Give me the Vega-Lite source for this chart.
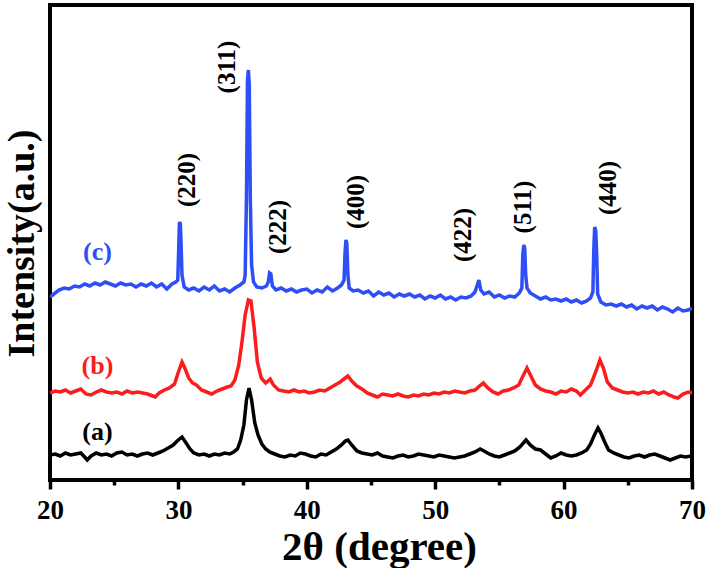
{
"$schema": "https://vega.github.io/schema/vega-lite/v6.json",
"width": 642, "height": 475,
"autosize": {"type": "none"},
"padding": {"left": 50, "top": 5, "right": 17, "bottom": 88},
"background": "white",
"config": {"view": {"stroke": "black", "strokeWidth": 4}, "font": "Liberation Serif"},
"datasets": {
"curves": [
{"s":"c","t":20.0,"i":183},{"s":"c","t":20.3,"i":186},{"s":"c","t":20.7,"i":190},{"s":"c","t":21.1,"i":192},{"s":"c","t":21.5,"i":191},{"s":"c","t":21.9,"i":194},{"s":"c","t":22.3,"i":193},{"s":"c","t":22.7,"i":196},{"s":"c","t":23.1,"i":194},{"s":"c","t":23.5,"i":197},{"s":"c","t":23.9,"i":195},{"s":"c","t":24.3,"i":198},{"s":"c","t":24.7,"i":196},{"s":"c","t":25.1,"i":194},{"s":"c","t":25.5,"i":197},{"s":"c","t":25.9,"i":195},{"s":"c","t":26.3,"i":196},{"s":"c","t":26.7,"i":193},{"s":"c","t":27.1,"i":196},{"s":"c","t":27.5,"i":194},{"s":"c","t":27.9,"i":197},{"s":"c","t":28.3,"i":193},{"s":"c","t":28.7,"i":196},{"s":"c","t":29.1,"i":191},{"s":"c","t":29.5,"i":196},{"s":"c","t":29.8,"i":198},{"s":"c","t":29.95,"i":200},{"s":"c","t":30.02,"i":230},{"s":"c","t":30.08,"i":258},{"s":"c","t":30.15,"i":256},{"s":"c","t":30.2,"i":240},{"s":"c","t":30.28,"i":205},{"s":"c","t":30.45,"i":193},{"s":"c","t":30.8,"i":190},{"s":"c","t":31.2,"i":192},{"s":"c","t":31.6,"i":189},{"s":"c","t":32.0,"i":193},{"s":"c","t":32.4,"i":190},{"s":"c","t":32.8,"i":194},{"s":"c","t":33.2,"i":189},{"s":"c","t":33.6,"i":191},{"s":"c","t":34.0,"i":188},{"s":"c","t":34.4,"i":192},{"s":"c","t":34.8,"i":195},{"s":"c","t":35.1,"i":198},{"s":"c","t":35.2,"i":205},{"s":"c","t":35.3,"i":283},{"s":"c","t":35.38,"i":400},{"s":"c","t":35.45,"i":410},{"s":"c","t":35.52,"i":395},{"s":"c","t":35.6,"i":283},{"s":"c","t":35.7,"i":215},{"s":"c","t":35.85,"i":198},{"s":"c","t":36.1,"i":193},{"s":"c","t":36.5,"i":192},{"s":"c","t":36.85,"i":194},{"s":"c","t":37.0,"i":198},{"s":"c","t":37.1,"i":207},{"s":"c","t":37.2,"i":206},{"s":"c","t":37.32,"i":194},{"s":"c","t":37.6,"i":190},{"s":"c","t":38.0,"i":192},{"s":"c","t":38.4,"i":189},{"s":"c","t":38.8,"i":191},{"s":"c","t":39.2,"i":188},{"s":"c","t":39.6,"i":190},{"s":"c","t":40.0,"i":191},{"s":"c","t":40.4,"i":187},{"s":"c","t":40.8,"i":190},{"s":"c","t":41.2,"i":188},{"s":"c","t":41.6,"i":193},{"s":"c","t":42.0,"i":189},{"s":"c","t":42.4,"i":192},{"s":"c","t":42.7,"i":195},{"s":"c","t":42.9,"i":200},{"s":"c","t":42.98,"i":228},{"s":"c","t":43.05,"i":240},{"s":"c","t":43.12,"i":236},{"s":"c","t":43.2,"i":205},{"s":"c","t":43.3,"i":192},{"s":"c","t":43.6,"i":189},{"s":"c","t":44.0,"i":190},{"s":"c","t":44.4,"i":187},{"s":"c","t":44.8,"i":189},{"s":"c","t":45.2,"i":184},{"s":"c","t":45.6,"i":188},{"s":"c","t":46.0,"i":185},{"s":"c","t":46.4,"i":187},{"s":"c","t":46.8,"i":183},{"s":"c","t":47.2,"i":186},{"s":"c","t":47.6,"i":184},{"s":"c","t":48.0,"i":186},{"s":"c","t":48.4,"i":183},{"s":"c","t":48.8,"i":185},{"s":"c","t":49.2,"i":181},{"s":"c","t":49.6,"i":184},{"s":"c","t":50.0,"i":182},{"s":"c","t":50.4,"i":185},{"s":"c","t":50.8,"i":181},{"s":"c","t":51.2,"i":183},{"s":"c","t":51.6,"i":180},{"s":"c","t":52.0,"i":183},{"s":"c","t":52.4,"i":182},{"s":"c","t":52.8,"i":184},{"s":"c","t":53.1,"i":188},{"s":"c","t":53.25,"i":194},{"s":"c","t":53.4,"i":200},{"s":"c","t":53.55,"i":190},{"s":"c","t":53.8,"i":186},{"s":"c","t":54.2,"i":188},{"s":"c","t":54.6,"i":183},{"s":"c","t":55.0,"i":185},{"s":"c","t":55.4,"i":182},{"s":"c","t":55.8,"i":184},{"s":"c","t":56.2,"i":183},{"s":"c","t":56.55,"i":187},{"s":"c","t":56.75,"i":192},{"s":"c","t":56.82,"i":225},{"s":"c","t":56.9,"i":235},{"s":"c","t":56.97,"i":232},{"s":"c","t":57.05,"i":205},{"s":"c","t":57.15,"i":192},{"s":"c","t":57.4,"i":187},{"s":"c","t":57.8,"i":184},{"s":"c","t":58.2,"i":181},{"s":"c","t":58.6,"i":183},{"s":"c","t":59.0,"i":180},{"s":"c","t":59.4,"i":181},{"s":"c","t":59.8,"i":179},{"s":"c","t":60.2,"i":181},{"s":"c","t":60.6,"i":178},{"s":"c","t":61.0,"i":180},{"s":"c","t":61.4,"i":177},{"s":"c","t":61.8,"i":179},{"s":"c","t":62.1,"i":182},{"s":"c","t":62.28,"i":188},{"s":"c","t":62.35,"i":230},{"s":"c","t":62.42,"i":253},{"s":"c","t":62.5,"i":250},{"s":"c","t":62.58,"i":225},{"s":"c","t":62.65,"i":186},{"s":"c","t":62.9,"i":178},{"s":"c","t":63.3,"i":175},{"s":"c","t":63.7,"i":176},{"s":"c","t":64.1,"i":174},{"s":"c","t":64.5,"i":176},{"s":"c","t":64.9,"i":173},{"s":"c","t":65.3,"i":175},{"s":"c","t":65.7,"i":171},{"s":"c","t":66.1,"i":174},{"s":"c","t":66.5,"i":172},{"s":"c","t":66.9,"i":174},{"s":"c","t":67.3,"i":170},{"s":"c","t":67.7,"i":173},{"s":"c","t":68.1,"i":171},{"s":"c","t":68.5,"i":168},{"s":"c","t":68.9,"i":172},{"s":"c","t":69.3,"i":169},{"s":"c","t":69.7,"i":170},{"s":"c","t":70.0,"i":172},
{"s":"b","t":20.0,"i":87},{"s":"b","t":20.4,"i":89},{"s":"b","t":20.8,"i":88},{"s":"b","t":21.2,"i":90},{"s":"b","t":21.6,"i":87},{"s":"b","t":22.0,"i":89},{"s":"b","t":22.4,"i":91},{"s":"b","t":22.8,"i":86},{"s":"b","t":23.2,"i":85},{"s":"b","t":23.6,"i":88},{"s":"b","t":24.0,"i":90},{"s":"b","t":24.4,"i":88},{"s":"b","t":24.8,"i":87},{"s":"b","t":25.2,"i":88},{"s":"b","t":25.6,"i":86},{"s":"b","t":26.0,"i":89},{"s":"b","t":26.4,"i":87},{"s":"b","t":26.8,"i":88},{"s":"b","t":27.2,"i":87},{"s":"b","t":27.6,"i":86},{"s":"b","t":28.0,"i":84},{"s":"b","t":28.2,"i":83},{"s":"b","t":28.5,"i":87},{"s":"b","t":28.9,"i":90},{"s":"b","t":29.3,"i":92},{"s":"b","t":29.7,"i":96},{"s":"b","t":30.0,"i":108},{"s":"b","t":30.28,"i":118},{"s":"b","t":30.5,"i":112},{"s":"b","t":30.8,"i":102},{"s":"b","t":31.1,"i":97},{"s":"b","t":31.4,"i":95},{"s":"b","t":31.8,"i":90},{"s":"b","t":32.2,"i":88},{"s":"b","t":32.6,"i":86},{"s":"b","t":33.0,"i":89},{"s":"b","t":33.4,"i":91},{"s":"b","t":33.8,"i":93},{"s":"b","t":34.1,"i":94},{"s":"b","t":34.4,"i":100},{"s":"b","t":34.7,"i":115},{"s":"b","t":34.95,"i":138},{"s":"b","t":35.2,"i":165},{"s":"b","t":35.45,"i":180},{"s":"b","t":35.65,"i":179},{"s":"b","t":35.9,"i":152},{"s":"b","t":36.15,"i":118},{"s":"b","t":36.45,"i":102},{"s":"b","t":36.8,"i":97},{"s":"b","t":37.15,"i":101},{"s":"b","t":37.4,"i":95},{"s":"b","t":37.8,"i":90},{"s":"b","t":38.2,"i":89},{"s":"b","t":38.6,"i":88},{"s":"b","t":39.0,"i":90},{"s":"b","t":39.4,"i":88},{"s":"b","t":39.8,"i":89},{"s":"b","t":40.2,"i":87},{"s":"b","t":40.6,"i":88},{"s":"b","t":41.0,"i":90},{"s":"b","t":41.4,"i":89},{"s":"b","t":41.8,"i":92},{"s":"b","t":42.2,"i":95},{"s":"b","t":42.6,"i":98},{"s":"b","t":43.0,"i":102},{"s":"b","t":43.2,"i":104},{"s":"b","t":43.5,"i":99},{"s":"b","t":43.9,"i":94},{"s":"b","t":44.3,"i":91},{"s":"b","t":44.7,"i":87},{"s":"b","t":45.1,"i":85},{"s":"b","t":45.5,"i":83},{"s":"b","t":45.9,"i":86},{"s":"b","t":46.3,"i":85},{"s":"b","t":46.7,"i":84},{"s":"b","t":47.1,"i":86},{"s":"b","t":47.5,"i":84},{"s":"b","t":47.9,"i":83},{"s":"b","t":48.3,"i":85},{"s":"b","t":48.7,"i":84},{"s":"b","t":49.1,"i":86},{"s":"b","t":49.5,"i":85},{"s":"b","t":49.9,"i":87},{"s":"b","t":50.3,"i":86},{"s":"b","t":50.7,"i":88},{"s":"b","t":51.1,"i":87},{"s":"b","t":51.5,"i":89},{"s":"b","t":51.9,"i":88},{"s":"b","t":52.3,"i":87},{"s":"b","t":52.7,"i":89},{"s":"b","t":53.1,"i":90},{"s":"b","t":53.45,"i":94},{"s":"b","t":53.75,"i":97},{"s":"b","t":54.1,"i":92},{"s":"b","t":54.5,"i":88},{"s":"b","t":54.9,"i":86},{"s":"b","t":55.3,"i":89},{"s":"b","t":55.7,"i":90},{"s":"b","t":56.1,"i":92},{"s":"b","t":56.5,"i":95},{"s":"b","t":56.8,"i":103},{"s":"b","t":57.15,"i":112},{"s":"b","t":57.45,"i":104},{"s":"b","t":57.8,"i":95},{"s":"b","t":58.2,"i":91},{"s":"b","t":58.6,"i":89},{"s":"b","t":59.0,"i":88},{"s":"b","t":59.4,"i":86},{"s":"b","t":59.8,"i":89},{"s":"b","t":60.2,"i":88},{"s":"b","t":60.6,"i":91},{"s":"b","t":61.0,"i":89},{"s":"b","t":61.3,"i":85},{"s":"b","t":61.7,"i":90},{"s":"b","t":62.1,"i":95},{"s":"b","t":62.5,"i":108},{"s":"b","t":62.83,"i":120},{"s":"b","t":63.1,"i":112},{"s":"b","t":63.4,"i":98},{"s":"b","t":63.8,"i":92},{"s":"b","t":64.2,"i":90},{"s":"b","t":64.6,"i":88},{"s":"b","t":65.0,"i":87},{"s":"b","t":65.4,"i":88},{"s":"b","t":65.8,"i":86},{"s":"b","t":66.2,"i":88},{"s":"b","t":66.6,"i":87},{"s":"b","t":67.0,"i":89},{"s":"b","t":67.4,"i":86},{"s":"b","t":67.8,"i":88},{"s":"b","t":68.2,"i":85},{"s":"b","t":68.6,"i":83},{"s":"b","t":68.9,"i":82},{"s":"b","t":69.3,"i":86},{"s":"b","t":69.7,"i":88},{"s":"b","t":70.0,"i":87},
{"s":"a","t":20.0,"i":25},{"s":"a","t":20.4,"i":26},{"s":"a","t":20.8,"i":24},{"s":"a","t":21.2,"i":27},{"s":"a","t":21.6,"i":25},{"s":"a","t":22.0,"i":26},{"s":"a","t":22.4,"i":27},{"s":"a","t":22.7,"i":23},{"s":"a","t":22.9,"i":20},{"s":"a","t":23.2,"i":24},{"s":"a","t":23.6,"i":27},{"s":"a","t":24.0,"i":25},{"s":"a","t":24.4,"i":26},{"s":"a","t":24.8,"i":24},{"s":"a","t":25.2,"i":27},{"s":"a","t":25.6,"i":28},{"s":"a","t":26.0,"i":25},{"s":"a","t":26.4,"i":26},{"s":"a","t":26.8,"i":24},{"s":"a","t":27.2,"i":26},{"s":"a","t":27.6,"i":27},{"s":"a","t":28.0,"i":25},{"s":"a","t":28.4,"i":27},{"s":"a","t":28.8,"i":29},{"s":"a","t":29.2,"i":32},{"s":"a","t":29.6,"i":35},{"s":"a","t":29.9,"i":39},{"s":"a","t":30.28,"i":43},{"s":"a","t":30.6,"i":37},{"s":"a","t":30.9,"i":31},{"s":"a","t":31.2,"i":27},{"s":"a","t":31.6,"i":25},{"s":"a","t":32.0,"i":26},{"s":"a","t":32.4,"i":24},{"s":"a","t":32.8,"i":26},{"s":"a","t":33.2,"i":25},{"s":"a","t":33.6,"i":27},{"s":"a","t":34.0,"i":26},{"s":"a","t":34.3,"i":28},{"s":"a","t":34.6,"i":31},{"s":"a","t":34.85,"i":40},{"s":"a","t":35.1,"i":55},{"s":"a","t":35.3,"i":80},{"s":"a","t":35.5,"i":92},{"s":"a","t":35.7,"i":80},{"s":"a","t":35.95,"i":57},{"s":"a","t":36.2,"i":45},{"s":"a","t":36.5,"i":36},{"s":"a","t":36.8,"i":31},{"s":"a","t":37.1,"i":28},{"s":"a","t":37.5,"i":26},{"s":"a","t":37.9,"i":24},{"s":"a","t":38.3,"i":23},{"s":"a","t":38.7,"i":25},{"s":"a","t":39.1,"i":24},{"s":"a","t":39.5,"i":27},{"s":"a","t":39.9,"i":26},{"s":"a","t":40.3,"i":24},{"s":"a","t":40.7,"i":23},{"s":"a","t":41.1,"i":26},{"s":"a","t":41.5,"i":25},{"s":"a","t":41.9,"i":28},{"s":"a","t":42.3,"i":31},{"s":"a","t":42.7,"i":35},{"s":"a","t":43.0,"i":39},{"s":"a","t":43.2,"i":40},{"s":"a","t":43.5,"i":35},{"s":"a","t":43.9,"i":29},{"s":"a","t":44.3,"i":27},{"s":"a","t":44.7,"i":26},{"s":"a","t":45.1,"i":25},{"s":"a","t":45.5,"i":27},{"s":"a","t":45.9,"i":24},{"s":"a","t":46.3,"i":23},{"s":"a","t":46.7,"i":22},{"s":"a","t":47.1,"i":24},{"s":"a","t":47.5,"i":25},{"s":"a","t":47.9,"i":23},{"s":"a","t":48.3,"i":24},{"s":"a","t":48.7,"i":26},{"s":"a","t":49.1,"i":25},{"s":"a","t":49.5,"i":24},{"s":"a","t":49.9,"i":23},{"s":"a","t":50.3,"i":25},{"s":"a","t":50.7,"i":24},{"s":"a","t":51.1,"i":23},{"s":"a","t":51.5,"i":22},{"s":"a","t":51.9,"i":23},{"s":"a","t":52.3,"i":24},{"s":"a","t":52.7,"i":26},{"s":"a","t":53.1,"i":28},{"s":"a","t":53.5,"i":31},{"s":"a","t":53.8,"i":29},{"s":"a","t":54.2,"i":26},{"s":"a","t":54.6,"i":24},{"s":"a","t":55.0,"i":23},{"s":"a","t":55.4,"i":25},{"s":"a","t":55.8,"i":27},{"s":"a","t":56.2,"i":29},{"s":"a","t":56.6,"i":33},{"s":"a","t":57.07,"i":40},{"s":"a","t":57.4,"i":35},{"s":"a","t":57.8,"i":31},{"s":"a","t":58.2,"i":30},{"s":"a","t":58.6,"i":26},{"s":"a","t":59.0,"i":22},{"s":"a","t":59.4,"i":24},{"s":"a","t":59.8,"i":27},{"s":"a","t":60.2,"i":25},{"s":"a","t":60.6,"i":24},{"s":"a","t":61.0,"i":25},{"s":"a","t":61.4,"i":27},{"s":"a","t":61.8,"i":30},{"s":"a","t":62.1,"i":36},{"s":"a","t":62.4,"i":45},{"s":"a","t":62.68,"i":52},{"s":"a","t":62.9,"i":47},{"s":"a","t":63.2,"i":38},{"s":"a","t":63.5,"i":30},{"s":"a","t":63.9,"i":27},{"s":"a","t":64.3,"i":25},{"s":"a","t":64.7,"i":23},{"s":"a","t":65.1,"i":22},{"s":"a","t":65.5,"i":24},{"s":"a","t":65.9,"i":25},{"s":"a","t":66.3,"i":23},{"s":"a","t":66.7,"i":25},{"s":"a","t":67.1,"i":26},{"s":"a","t":67.5,"i":24},{"s":"a","t":67.9,"i":22},{"s":"a","t":68.3,"i":20},{"s":"a","t":68.7,"i":22},{"s":"a","t":69.1,"i":24},{"s":"a","t":69.5,"i":23},{"s":"a","t":69.9,"i":24},{"s":"a","t":70.0,"i":23}
],
"names": [{"s":"c","label":"(c)","t":23.7,"i":228},{"s":"b","label":"(b)","t":23.7,"i":114},{"s":"a","label":"(a)","t":23.7,"i":48}],
"hkl": [{"h":"(220)","t":30.67,"i":300},{"h":"(311)","t":33.79,"i":413},{"h":"(222)","t":37.76,"i":253},{"h":"(400)","t":43.83,"i":278},{"h":"(422)","t":52.17,"i":245},{"h":"(511)","t":56.84,"i":273},{"h":"(440)","t":63.46,"i":292}]
},
"layer": [
{"data": {"name": "curves"},
 "mark": {"type": "line", "strokeWidth": 3.5, "clip": true},
 "encoding": {
  "x": {"field": "t", "type": "quantitative", "scale": {"domain": [20, 70], "nice": false, "zero": false},
   "axis": {"values": [20,25,30,35,40,45,50,55,60,65,70], "labelExpr": "datum.value % 10 === 0 ? datum.label : ''",
    "grid": false, "domain": false, "tickColor": "black", "tickWidth": 3.5,
    "tickSize": {"condition": {"test": "datum.value % 10 === 0", "value": 9}, "value": 5},
    "labelPadding": 8, "labelFont": "Liberation Serif", "labelFontWeight": "bold", "labelFontSize": 27, "labelColor": "black", "labelFlush": false,
    "title": "2θ (degree)", "titleFont": "Liberation Serif", "titleFontWeight": "bold", "titleFontSize": 41, "titleColor": "black",
    "titleX": 329, "titleY": 79, "titleBaseline": "alphabetic", "titleAlign": "center"}},
  "y": {"field": "i", "type": "quantitative", "scale": {"domain": [0, 475], "nice": false},
   "axis": {"grid": false, "domain": false, "ticks": false, "labels": false,
    "title": "Intensity(a.u.)", "titleFont": "Liberation Serif", "titleFontWeight": "bold", "titleFontSize": 38, "titleColor": "black",
    "titleX": -28, "titleY": 238, "titleAngle": 270, "titleBaseline": "middle", "titleAlign": "center"}},
  "color": {"field": "s", "type": "nominal", "scale": {"domain": ["a","b","c"], "range": ["#000000","#fb1d1d","#2e4ef6"]}, "legend": null}
 }},
{"data": {"name": "names"},
 "mark": {"type": "text", "font": "Liberation Serif", "fontWeight": "bold", "fontSize": 26, "align": "center", "baseline": "middle"},
 "encoding": {"x": {"field": "t", "type": "quantitative"}, "y": {"field": "i", "type": "quantitative"}, "text": {"field": "label"},
  "color": {"field": "s", "type": "nominal", "legend": null}}},
{"data": {"name": "hkl"},
 "mark": {"type": "text", "font": "Liberation Serif", "fontWeight": "bold", "fontSize": 25, "angle": 270, "align": "center", "baseline": "middle", "color": "black"},
 "encoding": {"x": {"field": "t", "type": "quantitative"}, "y": {"field": "i", "type": "quantitative"}, "text": {"field": "h"}}}
]
}
